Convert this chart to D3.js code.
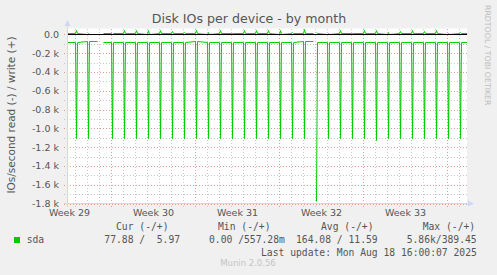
<!DOCTYPE html>
<html>
<head>
<meta charset="utf-8">
<script src="https://cdn.jsdelivr.net/npm/d3@7"></script>
<style>
body { margin: 0; background: #f0f0f0; }
svg text { font-family: "DejaVu Sans", sans-serif; fill: #555; }
svg text.mono { font-family: "DejaVu Sans Mono", monospace; white-space: pre; }
</style>
</head>
<body>
<svg id="chart" width="497" height="275"></svg>
<script>
var width = 497, height = 275;
var plotLeft = 67, plotRight = 467, plotTop = 28.5, plotBottom = 203.5;

// ---- data ----
var firstDay = "2025-07-16", lastDay = "2025-08-18";
// one value per day, Jul 16 .. Aug 18 (IOs/s, read drawn negative)
var readBase = [78, 80, 76, 78, 82, 78, 80, 77, 79, 78, 81, 76, 78, 80, 79, 82, 78,
                77, 80, 78, 76, 79, 82, 78, 80, 77, 79, 81, 78, 80, 79, 77, 80, 78];
var readPeak = [null, 1105, 1105, null, 1105, 1105, 1105, 1105, 1105, 1105, 1105, 1105,
                1105, 1105, 1105, 1105, 1105, 1105, 1105, 1105, 1105, 1770, 1105, 1105,
                1105, 1105, 1125, 1105, 1105, 1105, 1105, 1105, 1105, 1105];
var writeBase = [9, 9, 8, 9, 9, 10, 9, 8, 9, 9, 10, 9, 8, 9, 9, 9, 10,
                 9, 8, 9, 9, 9, 8, 9, 10, 9, 9, 8, 9, 9, 10, 9, 8, 9];
var writePeak = [null, 50, 18, null, 8, 50, 50, 45, 45, 35, 20, 50, 28, 50, 15, 42,
                 50, 50, 42, 25, 60, 25, 10, 50, 15, 50, 42, 25, 40, 50, 40, 50, 18, 30];
var gaps = [["2025-07-18T20:00", "2025-07-19T08:00"],
            ["2025-08-05T20:00", "2025-08-06T02:00"]];

var yTicks = [0, -200, -400, -600, -800, -1000, -1200, -1400, -1600, -1800];
var weekLabels = ["Week 29", "Week 30", "Week 31", "Week 32", "Week 33"];
var weekLabelAt = ["2025-07-16T12:00", "2025-07-23T12:00", "2025-07-30T12:00",
                   "2025-08-06T12:00", "2025-08-13T12:00"];

var legendHeads = ["Cur (-/+)", "Min (-/+)", "Avg (-/+)", "Max (-/+)"];
var legendVals = ["77.88 /  5.97", "0.00 /557.28m", "164.08 / 11.59", "5.86k/389.45"];
var lastUpdate = "Last update: Mon Aug 18 16:00:07 2025";

var parse = d3.timeParse("%Y-%m-%dT%H:%M");

var svg = d3.select("#chart");

var x = d3.scaleTime()
    .domain([parse("2025-07-16T08:00"), parse("2025-08-18T16:00")])
    .range([plotLeft, plotRight]);
var y = d3.scaleLinear().domain([-1800, 62]).range([plotBottom, plotTop]);

// plot canvas
svg.append("rect").attr("x", plotLeft).attr("y", plotTop)
    .attr("width", plotRight - plotLeft).attr("height", plotBottom - plotTop).attr("fill", "#fff");

// grid
var days = d3.timeDay.range(parse(firstDay + "T00:00"), d3.timeDay.offset(parse(lastDay + "T00:00"), 1))
    .filter(function(d) { return d >= x.domain()[0]; });
var sundays = d3.timeSunday.range(x.domain()[0], x.domain()[1]);
var g = svg.append("g").attr("shape-rendering", "crispEdges");

g.selectAll(".vmin").data(days).enter().append("line")
    .attr("x1", function(d) { return Math.round(x(d)) + 0.5; })
    .attr("x2", function(d) { return Math.round(x(d)) + 0.5; })
    .attr("y1", plotTop).attr("y2", plotBottom + 3)
    .attr("stroke", "#c8c8c8").attr("stroke-dasharray", "1,2");
g.selectAll(".vmaj").data(sundays).enter().append("line")
    .attr("x1", function(d) { return Math.round(x(d)) + 0.5; })
    .attr("x2", function(d) { return Math.round(x(d)) + 0.5; })
    .attr("y1", plotTop).attr("y2", plotBottom + 3)
    .attr("stroke", "#e79a9a").attr("stroke-dasharray", "1,2");
g.selectAll(".hmin").data(d3.range(-1700, 0, 200)).enter().append("line")
    .attr("x1", plotLeft - 3).attr("x2", plotRight)
    .attr("y1", function(d) { return Math.round(y(d)) + 0.5; })
    .attr("y2", function(d) { return Math.round(y(d)) + 0.5; })
    .attr("stroke", "#c8c8c8").attr("stroke-dasharray", "1,2");
g.selectAll(".hmaj").data(yTicks).enter().append("line")
    .attr("x1", plotLeft - 3).attr("x2", plotRight)
    .attr("y1", function(d) { return Math.round(y(d)) + 0.5; })
    .attr("y2", function(d) { return Math.round(y(d)) + 0.5; })
    .attr("stroke", "#e79a9a").attr("stroke-dasharray", "1,2");

// build series: base level each day, one 2h sample spike at 02:00
function series(base, peak, sign) {
    var pts = [];
    var allDays = d3.timeDay.range(parse(firstDay + "T00:00"), d3.timeDay.offset(parse(lastDay + "T00:00"), 1));
    allDays.forEach(function(d, i) {
        pts.push({t: d, v: base[i]});
        if (peak[i] != null) {
            pts.push({t: d3.timeHour.offset(d, 2), v: peak[i]});
            pts.push({t: d3.timeHour.offset(d, 4), v: base[i]});
        }
    });
    pts.push({t: x.domain()[1], v: base[base.length - 1]});
    gaps.forEach(function(gp) {
        var g0 = parse(gp[0]), g1 = parse(gp[1]);
        var before = pts.filter(function(p) { return p.t < g0; });
        var inside = pts.filter(function(p) { return p.t >= g0 && p.t < g1; });
        var after = pts.filter(function(p) { return p.t >= g1; });
        var v0 = before[before.length - 1].v;
        var mid = [{t: g0, v: v0}, {t: g0, v: null}];
        if (!after.length || +after[0].t !== +g1)
            mid.push({t: g1, v: inside.length ? inside[inside.length - 1].v : v0});
        pts = before.concat(mid, after);
    });
    return pts.map(function(p) { return {t: p.t, v: p.v == null ? null : sign * p.v}; });
}

svg.append("clipPath").attr("id", "clip").append("rect")
    .attr("x", plotLeft).attr("y", plotTop - 8).attr("width", plotRight - plotLeft).attr("height", plotBottom - plotTop + 8);

// rrdtool joins samples with straight segments, one sample (2h) per pixel
var line = d3.line()
    .defined(function(d) { return d.v != null; })
    .x(function(d) { return x(d.t) + 0.5; })
    .y(function(d) { return Math.round(y(d.v)) + 0.5; });

var lines = svg.append("g").attr("clip-path", "url(#clip)");
lines.append("path").datum(series(readBase, readPeak, -1))
    .attr("d", line).attr("fill", "none").attr("stroke", "#00cc00")
    .attr("stroke-width", 1);
lines.append("path").datum(series(writeBase, writePeak, 1))
    .attr("d", line).attr("fill", "none").attr("stroke", "#00cc00")
    .attr("stroke-width", 1);

// zero line
svg.append("line").attr("x1", plotLeft).attr("x2", plotRight)
    .attr("y1", Math.round(y(0)) + 0.5).attr("y2", Math.round(y(0)) + 0.5)
    .attr("stroke", "#000").attr("shape-rendering", "crispEdges");

// axes lines + arrows
var axisColor = "#cfd6f8";
svg.append("line").attr("x1", plotLeft + 0.5).attr("x2", plotLeft + 0.5).attr("y1", 25).attr("y2", plotBottom + 3)
    .attr("stroke", axisColor).attr("shape-rendering", "crispEdges");
svg.append("line").attr("x1", plotLeft - 3).attr("x2", plotRight + 1).attr("y1", plotBottom).attr("y2", plotBottom)
    .attr("stroke", axisColor).attr("shape-rendering", "crispEdges");
svg.append("path").attr("d", "M" + (plotLeft - 2.5) + ",26 L" + (plotLeft + 0.5) + ",20 L" + (plotLeft + 3.5) + ",26 Z")
    .attr("fill", axisColor);
svg.append("path").attr("d", "M" + (plotRight + 1) + "," + (plotBottom - 3) + " L" + (plotRight + 7) + "," + plotBottom + " L" + (plotRight + 1) + "," + (plotBottom + 3) + " Z")
    .attr("fill", axisColor);

// y tick labels
var yAxis = svg.append("g").attr("transform", "translate(" + plotLeft + ",0)")
    .call(d3.axisLeft(y).tickValues(yTicks).tickSize(0).tickPadding(8)
        .tickFormat(function(d) { return d === 0 ? "0.0" : (d / 1000).toFixed(1) + " k"; }));
yAxis.select(".domain").remove();
yAxis.selectAll("text").attr("font-size", "9.5px").attr("font-family", null).attr("fill", null);

// x week labels
var xAxis = svg.append("g").attr("transform", "translate(0," + plotBottom + ")")
    .call(d3.axisBottom(x).tickValues(weekLabelAt.map(parse)).tickSize(0).tickPadding(5.5)
        .tickFormat(function(d, i) { return weekLabels[i]; }));
xAxis.select(".domain").remove();
xAxis.selectAll("text").attr("font-size", "9.5px").attr("font-family", null).attr("fill", null);

// titles
svg.append("text").attr("x", 249).attr("y", 23).attr("text-anchor", "middle")
    .attr("font-size", "12.6px").text("Disk IOs per device - by month");
svg.append("text").attr("transform", "translate(14.5,115) rotate(-90)").attr("text-anchor", "middle")
    .attr("font-size", "10.5px").text("IOs/second read (-) / write (+)");
svg.append("text").attr("transform", "translate(485,5) rotate(90)")
    .attr("font-size", "7.8px").style("fill", "#bdbdbd").text("RRDTOOL / TOBI OETIKER");
svg.append("text").attr("x", 248).attr("y", 266).attr("text-anchor", "middle")
    .attr("font-size", "8.5px").style("fill", "#c4c4c4").text("Munin 2.0.56");

// legend
var headX = [116, 218, 321, 422.7];
var valX = [104.3, 209, 296, 406.7];
svg.selectAll(".lh").data(legendHeads).enter().append("text").attr("class", "mono")
    .attr("x", function(d, i) { return headX[i]; }).attr("y", 230)
    .attr("font-size", "9.7px").text(function(d) { return d; });
svg.selectAll(".lv").data(legendVals).enter().append("text").attr("class", "mono")
    .attr("x", function(d, i) { return valX[i]; }).attr("y", 243)
    .attr("font-size", "9.7px").text(function(d) { return d; });
svg.append("rect").attr("x", 14).attr("y", 237).attr("width", 6).attr("height", 6).attr("fill", "#00cc00");
svg.append("text").attr("class", "mono").attr("x", 26.7).attr("y", 243).attr("font-size", "9.7px").text("sda");
svg.append("text").attr("class", "mono").attr("x", 261).attr("y", 255.5).attr("font-size", "9.7px").text(lastUpdate);
</script>
</body>
</html>
